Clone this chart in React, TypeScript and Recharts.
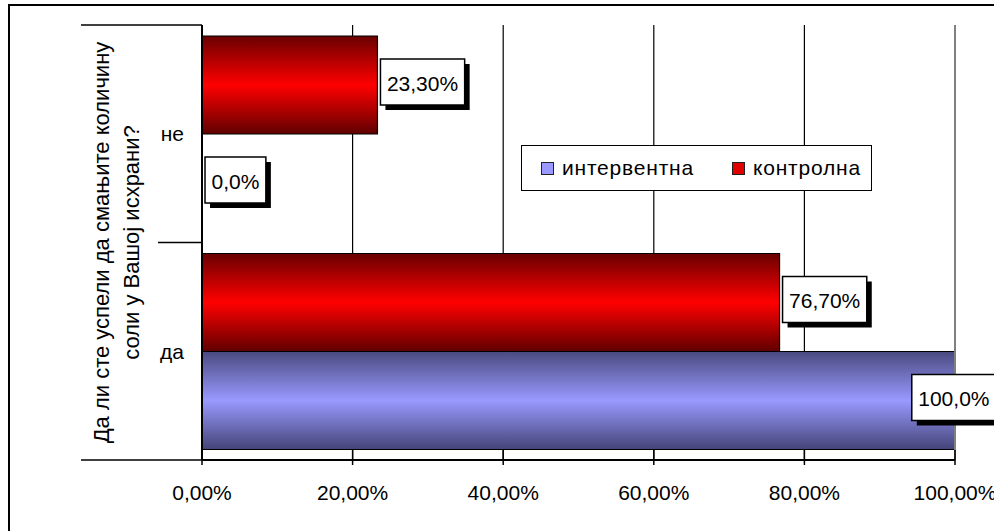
import React from 'react'
import { BarChart, Bar, XAxis, YAxis, CartesianGrid, ReferenceLine, LabelList, Legend } from 'recharts'

const W = 994
const H = 531
const FONT = '"Liberation Sans", Arial, sans-serif'
const FS = 21

const categories = ['не', 'да']
const interventna = [0, 1]
const kontrolna = [0.233, 0.767]
const interventnaLabels = ['0,0%', '100,0%']
const kontrolnaLabels = ['23,30%', '76,70%']
const xTicks = [0, 0.2, 0.4, 0.6, 0.8, 1]
const xTickLabels = ['0,00%', '20,00%', '40,00%', '60,00%', '80,00%', '100,00%']
const axisTitle = ['Да ли сте успели да смањите количину', 'соли у Вашој исхрани?']

const data = categories.map((cat, i) => ({
  cat,
  int: interventna[i],
  ctl: kontrolna[i],
  intLabel: interventnaLabels[i],
  ctlLabel: kontrolnaLabels[i],
}))

const series = [
  { key: 'int', name: 'интервентна', label: 'intLabel', grad: 'gradBlue', swatch: '#9999ff' },
  { key: 'ctl', name: 'контролна', label: 'ctlLabel', grad: 'gradRed', swatch: '#e00000' },
]
// red bar sits on top inside each category
const barOrder = [series[1], series[0]]

const charW: Record<string, number> = { ',': 0.278, '%': 0.889 }
const textWidth = (s: string) => s.split('').reduce((w, ch) => w + (charW[ch] ?? 0.556), 0) * FS

function ValueBox(props: any) {
  const { x, y, width, height, value } = props
  const bw = textWidth(String(value)) + 13
  const bh = 46
  const left = Math.min(x + width + 3, W - bw + 2)
  const top = y + height / 2 - 3 - bh / 2
  return (
    <g>
      <rect x={left + 5} y={top + 5} width={bw} height={bh} fill="#000" />
      <rect x={left} y={top} width={bw} height={bh} fill="#fff" stroke="#000" strokeWidth={1.5} />
      <text x={left + bw / 2} y={top + bh / 2 + 1} textAnchor="middle" dominantBaseline="central"
        fontSize={FS} fontFamily={FONT} fill="#000">{value}</text>
    </g>
  )
}

function CategoryTick(props: any) {
  const { x, y, payload, index } = props
  const half = payload?.offset ?? 0
  const last = index === categories.length - 1
  return (
    <g>
      <line x1={index === 0 ? 81 : 158} x2={x} y1={y - half} y2={y - half} stroke="#000" strokeWidth={1.5} />
      {last && <line x1={81} x2={x} y1={y + half} y2={y + half} stroke="#000" strokeWidth={1.5} />}
      <text x={x - 18} y={y} textAnchor="end" dominantBaseline="central" fontSize={FS} fontFamily={FONT} fill="#000">
        {payload.value}
      </text>
    </g>
  )
}

function PercentTick(props: any) {
  const { x, y, index } = props
  return (
    <g>
      <line x1={x} x2={x} y1={y - 10} y2={y + 5} stroke="#000" strokeWidth={1.5} />
      <text x={x} y={y + 32} textAnchor="middle" dominantBaseline="central" fontSize={FS} fontFamily={FONT} fill="#000">
        {xTickLabels[index]}
      </text>
    </g>
  )
}

function AxisTitle(props: any) {
  const vb = props.viewBox || { x: 0, y: 25, width: 202, height: 435 }
  const cy = vb.y + vb.height / 2
  return (
    <g>
      {axisTitle.map((line, i) => {
        const cx = 101 + i * 30
        return (
          <text key={i} x={cx} y={cy} transform={`rotate(-90, ${cx}, ${cy})`} textAnchor="middle"
            dominantBaseline="central" fontSize={22} fontFamily={FONT} fill="#000">
            {line}
          </text>
        )
      })}
    </g>
  )
}

function LegendBox() {
  return (
    <div style={{
      display: 'flex', alignItems: 'center', height: 46, width: 351, boxSizing: 'border-box',
      border: '1.5px solid #000', background: '#fff', fontFamily: FONT, fontSize: FS, letterSpacing: 0.8,
    }}>
      {series.map((s, i) => (
        <div key={s.key} style={{ display: 'flex', alignItems: 'center', marginLeft: i === 0 ? 19 : 38 }}>
          <span style={{ width: 11, height: 11, background: s.swatch, border: '1px solid #222', marginRight: 8 }} />
          <span>{s.name}</span>
        </div>
      ))}
    </div>
  )
}

export default function App() {
  return (
    <div style={{ position: 'absolute', left: 0, top: 0, width: W, height: H, overflow: 'hidden', background: '#fff' }}>
      <div style={{ position: 'absolute', left: 8, top: 4, width: 1000, height: 540, border: '2px solid #000' }} />
      <div style={{ position: 'absolute', left: 0, top: 0 }}>
        <BarChart
          width={W}
          height={H}
          data={data}
          layout="vertical"
          margin={{ top: 25, right: 39, bottom: 0, left: 0 }}
          barCategoryGap={11}
          barGap={0}
        >
          <defs>
            <linearGradient id="gradRed" x1="0" y1="0" x2="0" y2="1">
              <stop offset="0%" stopColor="#6a0000" />
              <stop offset="50%" stopColor="#ff0000" />
              <stop offset="100%" stopColor="#600000" />
            </linearGradient>
            <linearGradient id="gradBlue" x1="0" y1="0" x2="0" y2="1">
              <stop offset="0%" stopColor="#4a4a80" />
              <stop offset="50%" stopColor="#9999ff" />
              <stop offset="100%" stopColor="#444478" />
            </linearGradient>
          </defs>
          <CartesianGrid horizontal={false} vertical stroke="#000" strokeWidth={1.2} />
          <XAxis
            type="number"
            domain={[0, 1]}
            ticks={xTicks}
            interval={0}
            height={71}
            tickSize={0}
            tickMargin={0}
            tickLine={false}
            axisLine={{ stroke: '#000', strokeWidth: 2 }}
            tick={<PercentTick />}
          />
          <XAxis
            xAxisId="top"
            orientation="top"
            type="number"
            domain={[0, 1]}
            height={0}
            tick={false}
            tickLine={false}
            axisLine={{ stroke: '#808080', strokeWidth: 2 }}
          />
          <YAxis
            type="category"
            dataKey="cat"
            width={202}
            tickSize={0}
            tickMargin={0}
            tickLine={false}
            axisLine={{ stroke: '#000', strokeWidth: 2 }}
            tick={<CategoryTick />}
            label={{ content: <AxisTitle /> }}
          />
          <ReferenceLine x={1} stroke="#808080" strokeWidth={2} />
          {barOrder.map((s) => (
            <Bar key={s.key} dataKey={s.key} name={s.name} fill={`url(#${s.grad})`} stroke="#000"
              strokeWidth={1.2} minPointSize={0.01} isAnimationActive={false}>
              <LabelList dataKey={s.label} content={<ValueBox />} />
            </Bar>
          ))}
          <Legend
            layout="horizontal"
            verticalAlign="middle"
            align="center"
            content={<LegendBox />}
            wrapperStyle={{ left: 521, top: 145, width: 351, height: 46 }}
          />
        </BarChart>
      </div>
    </div>
  )
}
